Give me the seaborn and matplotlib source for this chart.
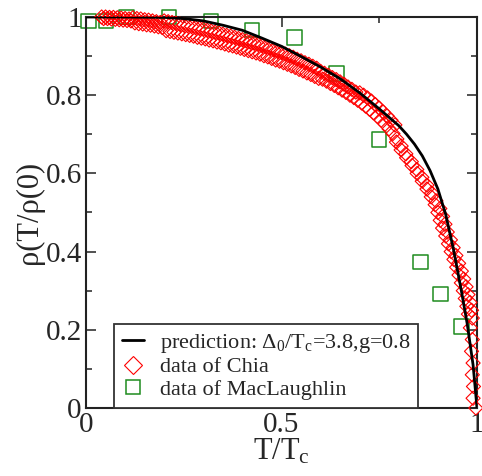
import matplotlib
matplotlib.use("Agg")
import matplotlib.pyplot as plt
from matplotlib.lines import Line2D
from matplotlib.ticker import MultipleLocator, FormatStrFormatter
import seaborn as sns
import pandas as pd

# Theoretical prediction rho(T)/rho(0) vs T/Tc
pred_t = [0.00, 0.10, 0.20, 0.25, 0.30, 0.35, 0.40, 0.45, 0.50, 0.55, 0.60,
          0.65, 0.70, 0.75, 0.80, 0.82, 0.84, 0.86, 0.88, 0.90, 0.92, 0.94,
          0.96, 0.975, 0.99, 1.00]
pred_rho = [1.000, 1.000, 0.999, 0.996, 0.990, 0.979, 0.966, 0.946, 0.925,
            0.899, 0.872, 0.842, 0.806, 0.765, 0.722, 0.700, 0.675, 0.645,
            0.607, 0.560, 0.495, 0.405, 0.300, 0.215, 0.110, 0.000]

# Chia data
chia_t = [
    0.040, 0.045, 0.050, 0.055, 0.060, 0.065, 0.070, 0.075, 0.080, 0.085,
    0.090, 0.095, 0.100, 0.105, 0.110, 0.115, 0.120, 0.125, 0.130, 0.135,
    0.140, 0.145, 0.150, 0.155, 0.160, 0.165, 0.170, 0.175, 0.180, 0.185,
    0.190, 0.195, 0.200, 0.205, 0.210, 0.215, 0.220, 0.225, 0.230, 0.235,
    0.240, 0.245, 0.250, 0.255, 0.260, 0.265, 0.270, 0.275, 0.280, 0.285,
    0.290, 0.295, 0.300, 0.305, 0.310, 0.315, 0.320, 0.325, 0.330, 0.335,
    0.340, 0.345, 0.350, 0.355, 0.360, 0.365, 0.370, 0.375, 0.380, 0.385,
    0.390, 0.395, 0.400, 0.405, 0.410, 0.415, 0.420, 0.425, 0.430, 0.435,
    0.440, 0.445, 0.450, 0.455, 0.460, 0.465, 0.470, 0.475, 0.480, 0.485,
    0.490, 0.495, 0.500, 0.505, 0.510, 0.515, 0.520, 0.525, 0.530, 0.535,
    0.540, 0.545, 0.550, 0.555, 0.560, 0.565, 0.570, 0.575, 0.580, 0.585,
    0.590, 0.595, 0.600, 0.605, 0.610, 0.615, 0.620, 0.625, 0.630, 0.635,
    0.640, 0.645, 0.650, 0.655, 0.660, 0.665, 0.670, 0.675, 0.680, 0.685,
    0.690, 0.695, 0.700, 0.705, 0.710, 0.715, 0.720, 0.725, 0.730, 0.735,
    0.740, 0.745, 0.750, 0.755, 0.760, 0.765, 0.770, 0.775, 0.780, 0.785,
    0.790, 0.795,
    0.794, 0.806, 0.806, 0.818, 0.820, 0.832, 0.834, 0.846, 0.847, 0.859,
    0.860, 0.872, 0.872, 0.884, 0.883, 0.895, 0.893, 0.905, 0.900, 0.912,
    0.906, 0.918, 0.912, 0.924, 0.920, 0.932, 0.927, 0.939, 0.934, 0.946,
    0.941, 0.953, 0.948, 0.960, 0.954, 0.966, 0.960, 0.972, 0.965, 0.977,
    0.970, 0.982, 0.974, 0.986, 0.978, 0.988,
    0.983, 0.988, 0.986, 0.990, 0.988, 0.991, 0.990, 0.997,
]
chia_rho = [
    1.000, 0.996, 1.000, 0.996, 0.999, 0.995, 0.999, 0.994, 0.998, 0.993,
    0.997, 0.992, 0.996, 0.991, 0.995, 0.990, 0.998, 0.985, 0.996, 0.983,
    0.995, 0.982, 0.993, 0.980, 0.992, 0.979, 0.990, 0.977, 0.988, 0.975,
    0.986, 0.973, 0.990, 0.965, 0.988, 0.963, 0.986, 0.961, 0.984, 0.959,
    0.982, 0.957, 0.980, 0.955, 0.978, 0.953, 0.976, 0.951, 0.973, 0.948,
    0.971, 0.946, 0.969, 0.944, 0.966, 0.941, 0.964, 0.939, 0.961, 0.936,
    0.959, 0.934, 0.956, 0.931, 0.953, 0.928, 0.951, 0.926, 0.948, 0.923,
    0.945, 0.920, 0.942, 0.917, 0.939, 0.914, 0.936, 0.911, 0.933, 0.908,
    0.930, 0.905, 0.927, 0.901, 0.923, 0.898, 0.920, 0.894, 0.916, 0.890,
    0.912, 0.887, 0.909, 0.883, 0.905, 0.879, 0.901, 0.875, 0.897, 0.871,
    0.892, 0.866, 0.888, 0.862, 0.883, 0.857, 0.879, 0.853, 0.874, 0.848,
    0.869, 0.843, 0.861, 0.841, 0.856, 0.836, 0.851, 0.830, 0.845, 0.825,
    0.840, 0.819, 0.834, 0.813, 0.828, 0.807, 0.821, 0.800, 0.815, 0.794,
    0.808, 0.787, 0.806, 0.780, 0.800, 0.772, 0.793, 0.764, 0.785, 0.755,
    0.776, 0.746, 0.767, 0.736, 0.757, 0.726, 0.747, 0.714, 0.736, 0.702,
    0.724, 0.688,
    0.680, 0.670, 0.660, 0.650, 0.640, 0.630, 0.620, 0.610, 0.600, 0.590,
    0.580, 0.570, 0.560, 0.550, 0.540, 0.530, 0.520, 0.510, 0.500, 0.490,
    0.480, 0.470, 0.460, 0.450, 0.440, 0.430, 0.420, 0.410, 0.400, 0.390,
    0.380, 0.370, 0.360, 0.350, 0.340, 0.330, 0.320, 0.310, 0.300, 0.290,
    0.280, 0.270, 0.260, 0.250, 0.240, 0.230,
    0.205, 0.175, 0.145, 0.115, 0.085, 0.055, 0.025, 0.000,
]

# MacLaughlin data
mac_t = [0.006, 0.051, 0.104, 0.212, 0.320, 0.425, 0.533, 0.641, 0.749,
         0.856, 0.907, 0.961]
mac_rho = [0.990, 0.990, 1.000, 1.000, 0.990, 0.967, 0.947, 0.856, 0.687,
           0.373, 0.292, 0.208]

sns.set_theme(style="ticks")
plt.rcParams["font.family"] = ["Liberation Serif", "DejaVu Serif"]
plt.rcParams["mathtext.fontset"] = "custom"
plt.rcParams["mathtext.rm"] = "Liberation Serif"
plt.rcParams["mathtext.it"] = "Liberation Serif:italic"

fig = plt.figure(figsize=(4.82, 4.76), dpi=100)
ax = fig.add_axes([86 / 482, 1 - 408 / 476, 391 / 482, 391 / 476])

pred = pd.DataFrame({"t": pred_t, "rho": pred_rho})
chia = pd.DataFrame({"t": chia_t, "rho": chia_rho})
mac = pd.DataFrame({"t": mac_t, "rho": mac_rho})

green = "#1e8c1e"
sns.scatterplot(data=mac, x="t", y="rho", ax=ax, marker="s", s=10.5 ** 2,
                facecolors="none", edgecolor=green, linewidth=1.1,
                clip_on=False, zorder=2, legend=False)
sns.scatterplot(data=chia, x="t", y="rho", ax=ax, marker="D", s=7.2 ** 2,
                facecolors="none", edgecolor="red", linewidth=0.8,
                clip_on=False, zorder=3, legend=False)
sns.lineplot(data=pred, x="t", y="rho", ax=ax, color="black", linewidth=2.0,
             estimator=None, sort=False, zorder=4, legend=False)

ax.set_xlim(0, 1)
ax.set_ylim(0, 1)
ax.xaxis.set_major_locator(MultipleLocator(0.5))
ax.xaxis.set_minor_locator(MultipleLocator(0.25))
ax.yaxis.set_major_locator(MultipleLocator(0.2))
ax.yaxis.set_minor_locator(MultipleLocator(0.1))
ax.xaxis.set_major_formatter(FormatStrFormatter("%g"))
ax.yaxis.set_major_formatter(FormatStrFormatter("%g"))
ax.tick_params(which="both", direction="in", top=True, right=True,
               width=1.2, color="#333333", labelsize=21, pad=3)
ax.tick_params(which="major", length=7)
ax.tick_params(which="minor", length=4)
for sp in ax.spines.values():
    sp.set_linewidth(1.5)
    sp.set_color("#222222")

ax.set_xlabel(r"T/T$_\mathrm{c}$", fontsize=22, labelpad=-1)
ax.set_ylabel(r"ρ(T/ρ(0)", fontsize=22, labelpad=1)

handles = [
    Line2D([], [], color="black", linewidth=2.0),
    Line2D([], [], linestyle="", marker="D", markersize=9.5,
           markerfacecolor="none", markeredgecolor="red", markeredgewidth=0.8),
    Line2D([], [], linestyle="", marker="s", markersize=10.5,
           markerfacecolor="none", markeredgecolor=green, markeredgewidth=1.1),
]
labels = [
    r"prediction: Δ$_\mathrm{0}$/T$_\mathrm{c}$=3.8,g=0.8",
    "data of Chia",
    "data of MacLaughlin",
]
leg = ax.legend(handles, labels, loc="lower left", bbox_to_anchor=(0.072, 0.0),
                borderaxespad=0, fontsize=16, frameon=True, fancybox=False,
                edgecolor="#333333", framealpha=1, handlelength=1.0,
                handletextpad=0.7, labelspacing=0.1, borderpad=0.35)
leg.get_frame().set_linewidth(1.3)
leg.set_zorder(5)

fig.savefig("out.png", dpi=100)
